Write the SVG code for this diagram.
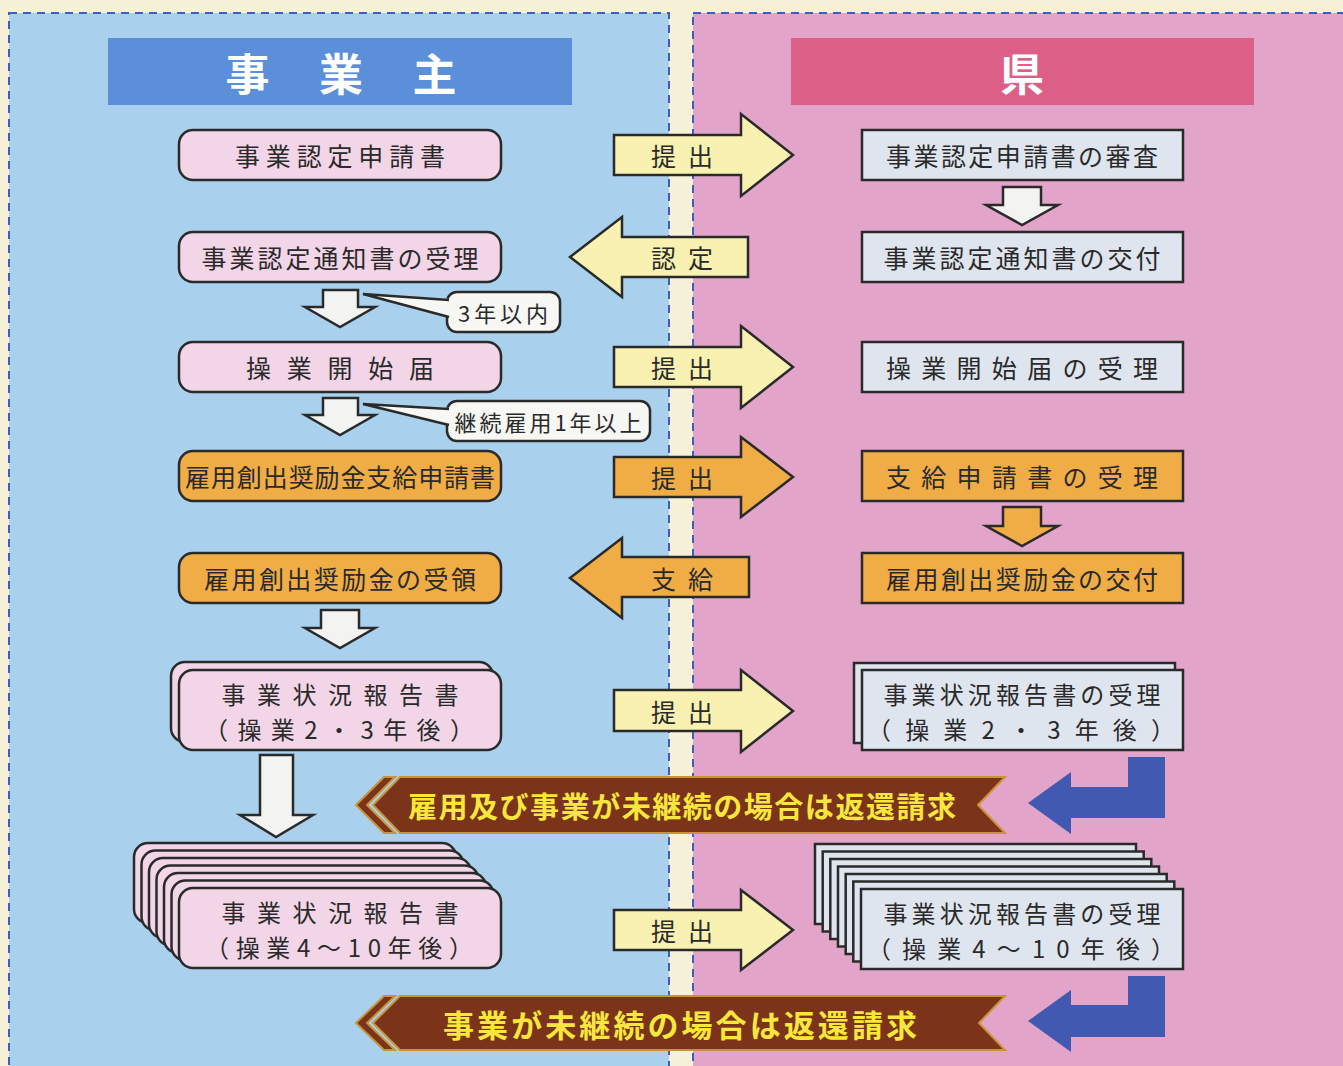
<svg xmlns="http://www.w3.org/2000/svg" width="1343" height="1066" viewBox="0 0 1343 1066">
<style>
text{font-family:"Noto Sans CJK JP","Noto Sans CJK SC",sans-serif;fill:#2a2a2a;dominant-baseline:central;text-anchor:middle;}
.t{font-size:25px;}
.t2{font-size:24px;}
.pk{fill:#f2d5e7;stroke:#2a2a2a;stroke-width:2.5;}
.or{fill:#f0ad45;stroke:#2a2a2a;stroke-width:2.5;}
.gb{fill:#dfe5ee;stroke:#2a2a2a;stroke-width:2.5;}
.ya{fill:#f8f1b1;stroke:#2a2a2a;stroke-width:2.5;stroke-linejoin:miter;}
.oa{fill:#f0ad45;stroke:#2a2a2a;stroke-width:2.5;}
.wa{fill:#f3f3f1;stroke:#2a2a2a;stroke-width:2.5;}
.ba{fill:#4259b2;}
.bn{fill:#7b3419;stroke:#c8933b;stroke-width:2;}
.bt{font-weight:bold;fill:#f7e63c;}
.hd{font-weight:bold;fill:#ffffff;font-size:44px;}
.dash{fill:none;stroke:#3c5cc8;stroke-width:2;stroke-dasharray:8 6;}
.co{fill:#f7f7f4;stroke:#2a2a2a;stroke-width:2.5;}
</style>
<rect x="0" y="0" width="1343" height="1066" fill="#f7f2d7"/>
<rect x="9" y="13" width="660" height="1070" fill="#a9d0ec"/>
<rect x="693" y="13" width="700" height="1070" fill="#e3a4c9"/>
<rect class="dash" x="9" y="13" width="660" height="1070"/>
<rect class="dash" x="693" y="13" width="700" height="1070"/>

<g id="header-jigyounushi">
<rect x="108" y="38" width="464" height="67" fill="#5b8fd9"/>
<text class="hd" x="341" y="72" textLength="231" lengthAdjust="spacing">事業主</text>
</g>
<g id="header-ken">
<rect x="791" y="38" width="463" height="67" fill="#dc5f87"/>
<text class="hd" x="1022" y="72">県</text>
</g>

<g id="connectors">
<path class="ya" d="M614,135 H741 V114 L793,155 L741,196 V175 H614 Z"/>
<text class="t" x="682" y="155" textLength="62" lengthAdjust="spacing">提出</text>
<path class="ya" d="M748,237 H622 V217 L570,257 L622,297 V277 H748 Z"/>
<text class="t" x="682" y="257" textLength="62" lengthAdjust="spacing">認定</text>
<path class="ya" d="M614,347 H741 V326 L793,367 L741,408 V387 H614 Z"/>
<text class="t" x="682" y="367" textLength="62" lengthAdjust="spacing">提出</text>
<path class="oa" d="M614,457 H741 V437 L793,477 L741,517 V497 H614 Z"/>
<text class="t" x="682" y="477" textLength="62" lengthAdjust="spacing">提出</text>
<path class="oa" d="M749,557 H622 V538 L570,578 L622,618 V597 H749 Z"/>
<text class="t" x="682" y="578" textLength="62" lengthAdjust="spacing">支給</text>
<path class="ya" d="M614,690 H741 V670 L793,711 L741,752 V731 H614 Z"/>
<text class="t" x="682" y="711" textLength="62" lengthAdjust="spacing">提出</text>
<path class="ya" d="M614,910 H741 V890 L793,930 L741,970 V950 H614 Z"/>
<text class="t" x="682" y="930" textLength="62" lengthAdjust="spacing">提出</text>

<path class="wa" d="M323,290 H358 V307 H375 L340,327 L305,307 H323 Z"/>
<path class="wa" d="M323,398 H358 V415 H375 L340,435 L305,415 H323 Z"/>
<path class="wa" d="M321,610 H359 V628 H375 L340,648 L305,628 H321 Z"/>
<path class="wa" d="M260,755 H293 V815 H313 L276,837 L240,815 H260 Z"/>
<path class="wa" d="M1003,187 H1041 V205 H1058 L1022,225 L986,205 H1003 Z"/>
<path class="oa" d="M1003,507 H1041 V526 H1058 L1022,546 L986,526 H1003 Z"/>

<path class="ba" d="M1128,757 H1165 V818 H1071 V834 L1028,803 L1071,772 V787 H1128 Z"/>
<path class="ba" d="M1128,976 H1165 V1037 H1071 V1052 L1028,1021 L1071,990 V1005 H1128 Z"/>
</g>

<g id="callout-3nen">
<rect class="co" x="447" y="292" width="113" height="40" rx="10"/>
<polygon points="363,294 452,299 452,318" fill="#f7f7f4"/>
<polyline points="449,300 363,294 449,317" fill="none" stroke="#2a2a2a" stroke-width="2.5"/>
<text x="503" y="312" font-size="22" textLength="90" lengthAdjust="spacing">3年以内</text>
</g>
<g id="callout-keizoku">
<rect class="co" x="447" y="401" width="203" height="40" rx="10"/>
<polygon points="363,404 452,408 452,426" fill="#f7f7f4"/>
<polyline points="449,409 363,404 449,425" fill="none" stroke="#2a2a2a" stroke-width="2.5"/>
<text x="548" y="421" font-size="22" textLength="187" lengthAdjust="spacing">継続雇用1年以上</text>
</g>

<g id="node-L1"><rect class="pk" x="179" y="130" width="322" height="50" rx="14"/><text class="t" x="340" y="155" textLength="210" lengthAdjust="spacing">事業認定申請書</text></g>
<g id="node-L2"><rect class="pk" x="179" y="232" width="322" height="50" rx="14"/><text class="t" x="340" y="257" textLength="277" lengthAdjust="spacing">事業認定通知書の受理</text></g>
<g id="node-L3"><rect class="pk" x="179" y="342" width="322" height="50" rx="14"/><text class="t" x="340" y="367" textLength="188" lengthAdjust="spacing">操業開始届</text></g>
<g id="node-L4"><rect class="or" x="179" y="451" width="322" height="50" rx="14"/><text class="t" x="340" y="476" textLength="310" lengthAdjust="spacing">雇用創出奨励金支給申請書</text></g>
<g id="node-L5"><rect class="or" x="179" y="553" width="322" height="50" rx="14"/><text class="t" x="340" y="578" textLength="272" lengthAdjust="spacing">雇用創出奨励金の受領</text></g>
<g id="node-L6">
<rect class="pk" x="171" y="662" width="322" height="80" rx="14"/>
<rect class="pk" x="179" y="670" width="322" height="80" rx="14"/>
<text class="t2" x="340" y="693" textLength="237" lengthAdjust="spacing">事業状況報告書</text>
<text class="t2" x="339" y="728" textLength="270" lengthAdjust="spacing">（操業2・3年後）</text>
</g>
<g id="node-L7">
<rect class="pk" x="134" y="843" width="322" height="80" rx="14"/>
<rect class="pk" x="141.5" y="850.5" width="322" height="80" rx="14"/>
<rect class="pk" x="149" y="858" width="322" height="80" rx="14"/>
<rect class="pk" x="156.5" y="865.5" width="322" height="80" rx="14"/>
<rect class="pk" x="164" y="873" width="322" height="80" rx="14"/>
<rect class="pk" x="171.5" y="880.5" width="322" height="80" rx="14"/>
<rect class="pk" x="179" y="888" width="322" height="80" rx="14"/>
<text class="t2" x="340" y="911" textLength="237" lengthAdjust="spacing">事業状況報告書</text>
<text class="t2" x="339" y="946" textLength="268" lengthAdjust="spacing">（操業4～10年後）</text>
</g>

<g id="node-R1"><rect class="gb" x="862" y="130" width="321" height="50"/><text class="t" x="1022" y="155" textLength="272" lengthAdjust="spacing">事業認定申請書の審査</text></g>
<g id="node-R2"><rect class="gb" x="862" y="232" width="321" height="50"/><text class="t" x="1022" y="257" textLength="277" lengthAdjust="spacing">事業認定通知書の交付</text></g>
<g id="node-R3"><rect class="gb" x="862" y="342" width="321" height="50"/><text class="t" x="1022" y="367" textLength="272" lengthAdjust="spacing">操業開始届の受理</text></g>
<g id="node-R4"><rect class="or" x="862" y="451" width="321" height="50"/><text class="t" x="1022" y="476" textLength="272" lengthAdjust="spacing">支給申請書の受理</text></g>
<g id="node-R5"><rect class="or" x="862" y="553" width="321" height="50"/><text class="t" x="1022" y="578" textLength="272" lengthAdjust="spacing">雇用創出奨励金の交付</text></g>
<g id="node-R6">
<rect class="gb" x="854" y="663" width="321" height="80"/>
<rect class="gb" x="862" y="670" width="321" height="80"/>
<text class="t2" x="1022" y="693" textLength="277" lengthAdjust="spacing">事業状況報告書の受理</text>
<text class="t2" x="1021" y="728" textLength="308" lengthAdjust="spacing">（操業2・3年後）</text>
</g>
<g id="node-R7">
<rect class="gb" x="815" y="844" width="321" height="80"/>
<rect class="gb" x="822.7" y="851.5" width="321" height="80"/>
<rect class="gb" x="830.3" y="859" width="321" height="80"/>
<rect class="gb" x="838" y="866.5" width="321" height="80"/>
<rect class="gb" x="845.7" y="874" width="321" height="80"/>
<rect class="gb" x="853.3" y="881.5" width="321" height="80"/>
<rect class="gb" x="861" y="889" width="322" height="80"/>
<text class="t2" x="1022" y="912" textLength="277" lengthAdjust="spacing">事業状況報告書の受理</text>
<text class="t2" x="1021" y="947" textLength="308" lengthAdjust="spacing">（操業4～10年後）</text>
</g>

<g id="banner-1">
<polygon class="bn" points="384,777 395,777 367,805 395,833 384,833 356,805"/>
<polygon class="bn" points="400,777 1005,777 978,805 1005,833 400,833 373,805"/>
<text class="bt" x="682" y="805" font-size="29" textLength="548" lengthAdjust="spacing">雇用及び事業が未継続の場合は返還請求</text>
</g>
<g id="banner-2">
<polygon class="bn" points="384,996 395,996 367,1023 395,1050 384,1050 356,1023"/>
<polygon class="bn" points="400,996 1005,996 979,1023 1005,1050 400,1050 373,1023"/>
<text class="bt" x="680" y="1023" font-size="31" textLength="474" lengthAdjust="spacing">事業が未継続の場合は返還請求</text>
</g>
</svg>
